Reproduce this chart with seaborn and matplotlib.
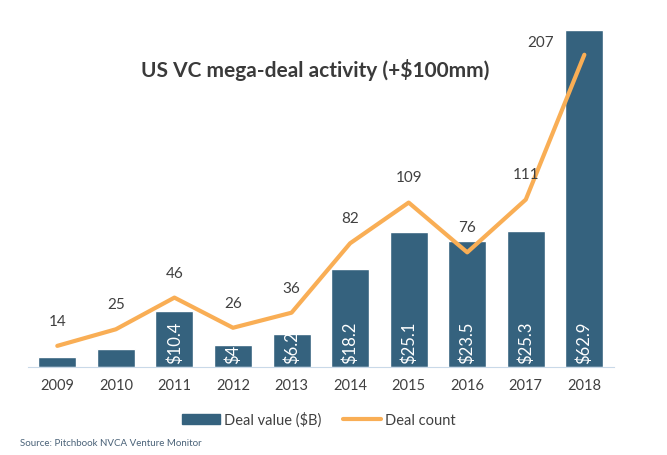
import matplotlib
matplotlib.use('Agg')
import matplotlib.pyplot as plt
import seaborn as sns
import numpy as np
import pandas as pd
from matplotlib.patches import Patch
from matplotlib.lines import Line2D

# Data
years = ['2009', '2010', '2011', '2012', '2013', '2014', '2015', '2016', '2017', '2018']
deal_value = [1.9, 3.3, 10.4, 4.1, 6.2, 18.2, 25.1, 23.5, 25.3, 62.9]
deal_labels = ['', '', '$10.4', '$4.', '$6.2', '$18.2', '$25.1', '$23.5', '$25.3', '$62.9']
deal_count = [14, 25, 46, 26, 36, 82, 109, 76, 111, 207]

bar_color = '#35627E'
line_color = '#F9AE55'
text_color = '#404040'

sns.set_style('white')
plt.rcParams['font.family'] = ['Lato', 'DejaVu Sans']

df = pd.DataFrame({'year': years, 'value': deal_value, 'count': deal_count})

fig = plt.figure(figsize=(6.67, 4.56), dpi=100)
ax = fig.add_axes([0.042, 0.193, 0.878, 0.741])
sns.barplot(data=df, x='year', y='value', color=bar_color, width=0.65,
            saturation=1, ax=ax)
ax.set_ylim(0, 63)
ax.set_xlim(-0.5, 9.5)
ax.set_xlabel('')
ax.set_ylabel('')
ax.set_yticks([])
for s in ['top', 'right', 'left']:
    ax.spines[s].set_visible(False)
ax.spines['bottom'].set_color('#C9D9E8')
ax.tick_params(axis='x', length=0, labelsize=10.5, colors=text_color, pad=8)

# bar labels, rotated, inside base
for i, lab in enumerate(deal_labels):
    if lab:
        ax.text(i, 0.8, lab, rotation=90, ha='center', va='bottom',
                color='white', fontsize=12)

ax2 = ax.twinx()
sns.lineplot(x=np.arange(len(years)), y=deal_count, color=line_color,
             linewidth=3, ax=ax2)
ax2.set_ylim(0, 224)
ax2.set_yticks([])
for s in ax2.spines.values():
    s.set_visible(False)
for i, c in enumerate(deal_count):
    if i == 9:
        ax2.text(i - 0.75, c + 4, str(c), ha='center', va='bottom',
                 color=text_color, fontsize=11)
    else:
        ax2.text(i, c + 12, str(c), ha='center', va='bottom',
                 color=text_color, fontsize=11)

fig.text(0.472, 0.847, 'US VC mega-deal activity (+$100mm)', ha='center',
         va='center', fontsize=15, fontweight='bold', color='#3A3A3A')

handles = [Patch(color=bar_color, label='Deal value ($B)'),
           Line2D([0], [0], color=line_color, lw=3, label='Deal count')]
fig.legend(handles=handles, loc='center', bbox_to_anchor=(0.478, 0.078),
           ncol=2, frameon=False, fontsize=10.5, handlelength=2.6,
           columnspacing=1.5, handletextpad=0.3, labelcolor=text_color)

fig.text(0.03, 0.028, 'Source: Pitchbook NVCA Venture Monitor', fontsize=7,
         color='#4A6278', ha='left', va='center')

fig.savefig('out.png', dpi=100)
